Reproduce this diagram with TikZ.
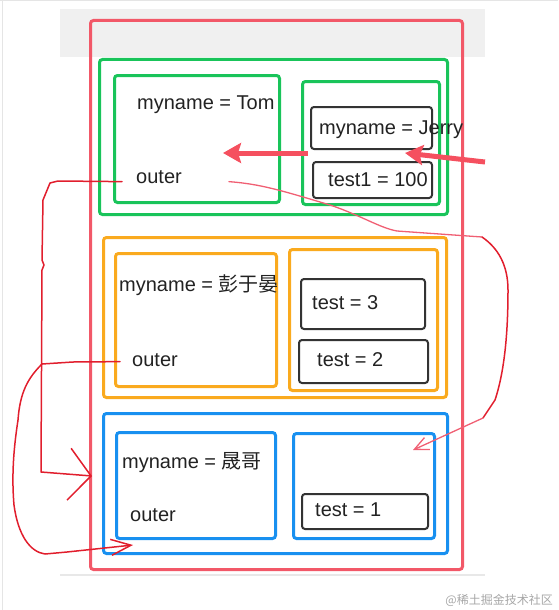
\documentclass[tikz,border=0pt]{standalone}
\usepackage{fontspec}
\setmainfont{Liberation Sans}
\newfontfamily\cjk{Noto Sans CJK SC}
\usetikzlibrary{arrows.meta}
\definecolor{frameRed}{RGB}{242,88,104}
\definecolor{scopeGreen}{RGB}{25,196,90}
\definecolor{scopeOrange}{RGB}{250,170,30}
\definecolor{scopeBlue}{RGB}{24,144,240}
\definecolor{boxInk}{RGB}{51,51,51}
\definecolor{textInk}{RGB}{34,34,34}
\definecolor{arrowRed}{RGB}{245,80,95}
\definecolor{penRed}{RGB}{225,30,45}
\definecolor{penPink}{RGB}{240,95,115}
\definecolor{stripGray}{RGB}{240,240,240}
\begin{document}
\begin{tikzpicture}[
  x=1pt,y=-1pt,
  font=\fontsize{20}{24}\selectfont,
  scopebox/.style={draw,line width=3pt,rounded corners=3pt,anchor=north west,inner sep=0pt},
  valbox/.style={draw=boxInk,line width=2pt,rounded corners=3pt,anchor=north west,inner sep=0pt},
  lab/.style={anchor=base west,inner sep=0pt,text=textInk},
  pointer/.style={draw=arrowRed,line width=5pt,-{Stealth[length=18pt,width=20pt,inset=3pt]}},
  pen/.style={draw=penRed,line width=1.5pt,line cap=round,line join=round},
  softpen/.style={draw=penPink,line width=1.3pt,line cap=round,line join=round}
]
\useasboundingbox (0,0) rectangle (558,610);
\draw[gray!20,line width=1pt] (2,0) -- (2,610) (0,1) -- (558,1);
\fill[stripGray] (60,9) rectangle (485,57);
\draw[gray!18,line width=2pt] (60,575) -- (485,575);
\node[scopebox,draw=frameRed,minimum width=372,minimum height=549] (frame) at (89,19) {};

\node[scopebox,draw=scopeGreen,minimum width=348,minimum height=155] (tomscope) at (98,58) {};
\node[scopebox,draw=scopeGreen,minimum width=165,minimum height=127] (tomfn) at (113,74) {};
\node[scopebox,draw=scopeGreen,minimum width=137,minimum height=123] (jerryfn) at (301,80) {};
\node[valbox,minimum width=121,minimum height=42] (jerrybox) at (310,106) {};
\node[valbox,minimum width=119,minimum height=36] (testonebox) at (312,161) {};
\node[lab] (tomname) at (137,109) {myname = Tom};
\node[lab] (tomouter) at (136,183) {outer};
\node[lab] (jerryname) at (319,134) {myname = Jerry};
\node[lab] (testone) at (328,186) {test1 = 100};

\node[scopebox,draw=scopeOrange,minimum width=343,minimum height=160] (pengscope) at (102,236) {};
\node[scopebox,draw=scopeOrange,minimum width=161,minimum height=133] (pengfn) at (114,252) {};
\node[scopebox,draw=scopeOrange,minimum width=148,minimum height=141] (pengblock) at (288,248) {};
\node[valbox,minimum width=124,minimum height=50] (threebox) at (300,278) {};
\node[valbox,minimum width=129,minimum height=43] (twobox) at (298,339) {};
\node[lab] (pengname) at (119,291) {myname = {\cjk 彭于晏}};
\node[lab] (pengouter) at (132,366) {outer};
\node[lab] (testthree) at (312,309) {test = 3};
\node[lab] (testtwo) at (317,366) {test = 2};

\node[scopebox,draw=scopeBlue,minimum width=344,minimum height=140] (shengscope) at (102,412) {};
\node[scopebox,draw=scopeBlue,minimum width=159,minimum height=106] (shengfn) at (115,431) {};
\node[scopebox,draw=scopeBlue,minimum width=141,minimum height=105] (shengblock) at (292,432) {};
\node[valbox,minimum width=126,minimum height=35] (onebox) at (301,493) {};
\node[lab] (shengname) at (122,468) {myname = {\cjk 晟哥}};
\node[lab] (shengouter) at (130,521) {outer};
\node[lab] (testfirst) at (315,516) {test = 1};

\coordinate (jerrystart) at (308,153);
\coordinate (tomhit) at (223,153);
\coordinate (callstart) at (485,162);
\coordinate (jerryhit) at (405,153);
\coordinate (framehit) at (92,476);
\coordinate (blockhit) at (133,545);
\coordinate (bend) at (483,418);
\coordinate (onehit) at (413,450);

\draw[pointer] (jerrystart) -- (tomhit);
\draw[pointer] (callstart) -- (jerryhit);

\draw[pen,-{Straight Barb[length=22pt,width=52pt]}] (tomouter.west) ++(-14,5)
  -- (58,181) -- (50,183) -- (43,200) -- (42,260) -- (44,265) -- (42,270)
  -- (41,472) -- (framehit);
\draw[pen,-{Straight Barb[length=20pt,width=16pt]}] (pengouter.west) ++(-12,2)
  -- (73,362) -- (42,364) .. controls (28,378) and (20,392) .. (18,420)
  .. controls (15,440) and (11,470) .. (14,505)
  .. controls (18,535) and (30,552) .. (45,554) -- (67,552) -- (blockhit);
\draw[softpen] (tomouter.east) ++(47,5) .. controls (260,184) and (280,190) .. (330,205)
  .. controls (360,215) and (380,228) .. (397,231) -- (482,237);
\draw[pen] (482,237) .. controls (498,248) and (508,265) .. (508,290)
  .. controls (508,330) and (505,370) .. (495,400) -- (bend);
\draw[softpen,-{Straight Barb[length=14pt,width=13pt]}] (bend) -- (onehit);

\node[anchor=base east,inner sep=0pt,text=gray!70,font=\fontsize{12}{14}\selectfont\cjk] (mark) at (553,604) {@稀土掘金技术社区};
\end{tikzpicture}
\end{document}
